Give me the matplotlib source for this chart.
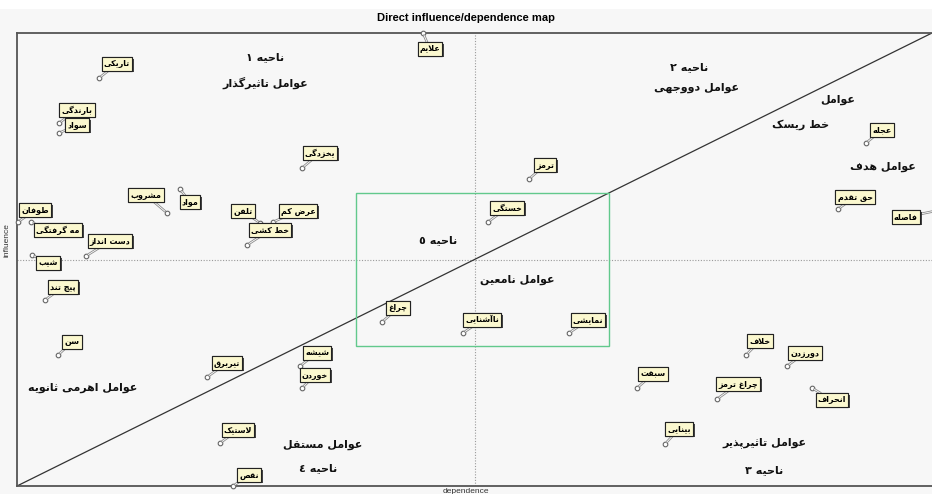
import matplotlib
matplotlib.use("Agg")
import matplotlib.pyplot as plt
import matplotlib.patheffects as pe
from matplotlib.patches import Rectangle
from matplotlib import font_manager, ft2font
from matplotlib.font_manager import FontProperties

# ---------------- data ----------------
variables = ["علایم", "تاریکی", "بارندگی", "سواد", "یخزدگی", "مشروب", "مواد",
             "طوفان", "مه گرفتگی", "دست انداز", "تلفن", "عرض کم", "خط کشی",
             "شیب", "پیچ تند", "سن", "تیربرق", "شیشه", "خوردن", "لاستیک", "نقص",
             "چراغ", "ترمز", "خستگی", "ناآشنایی", "نمایشی", "عجله", "حق تقدم",
             "فاصله", "خلاف", "دورزدن", "سبقت", "چراغ ترمز", "انحراف", "بینایی"]
dependence = [406, 82, 42, 42, 285, 150, 163,
              1, 14, 69, 243, 256, 230,
              15, 28, 41, 190, 283, 285, 203, 216,
              365, 512, 471, 446, 552, 849, 821,
              918, 729, 770, 620, 700, 795, 648]
influence = [453, 408, 363, 353, 318, 273, 297,
             264, 264, 230, 263, 264, 241,
             231, 186, 131, 109, 120, 98, 43, 0,
             164, 307, 264, 153, 153, 343, 277,
             275, 131, 120, 98, 87, 98, 42]
# label placement (offset of the label box from its point, pixels)
label_offsets = [(7, -16), (18, 14), (18, 13), (18, 8), (18, 15), (-21, 18), (10, -13),
                 (17, 12), (27, -8), (24, 15), (-17, 12), (25, 11), (23, 15),
                 (16, -8), (18, 13), (14, 13), (20, 14), (17, 13), (13, 13), (18, 13), (16, 11),
                 (16, 14), (16, 14), (19, 14), (19, 13), (19, 13), (16, 13), (17, 12),
                 (-29, -6), (14, 14), (18, 13), (16, 14), (21, 15), (20, -12), (14, 15)]

mean_dependence = 458
mean_influence = 226
zone5_dep = (339, 592)
zone5_inf = (140, 293)
x_max, y_max = 915, 453

zone_labels = ["ناحیه ١", "عوامل تاثیرگذار", "ناحیه ٢", "عوامل دووجهی", "عوامل",
               "خط ریسک", "عوامل هدف", "ناحیه ٥", "عوامل نامعین",
               "عوامل اهرمی ثانویه", "عوامل مستقل", "ناحیه ٤", "عوامل تاثیرپذیر", "ناحیه ٣"]
zone_label_pos = [(248, 429), (248, 403), (672, 419), (679, 398), (821, 386),
                  (784, 361), (866, 319), (421, 246), (500, 206),
                  (66, 98), (306, 41), (301, 18), (747, 43), (747, 16)]

# ---------------- minimal Arabic/Persian shaping ----------------
AR = {
    '\u0621': ('\uFE80', None, None, None),
    '\u0622': ('\uFE81', '\uFE82', None, None),
    '\u0626': ('\uFE89', '\uFE8A', '\uFE8B', '\uFE8C'),
    '\u0627': ('\uFE8D', '\uFE8E', None, None),
    '\u0628': ('\uFE8F', '\uFE90', '\uFE91', '\uFE92'),
    '\u067E': ('\uFB56', '\uFB57', '\uFB58', '\uFB59'),
    '\u062A': ('\uFE95', '\uFE96', '\uFE97', '\uFE98'),
    '\u062B': ('\uFE99', '\uFE9A', '\uFE9B', '\uFE9C'),
    '\u062C': ('\uFE9D', '\uFE9E', '\uFE9F', '\uFEA0'),
    '\u0686': ('\uFB7A', '\uFB7B', '\uFB7C', '\uFB7D'),
    '\u062D': ('\uFEA1', '\uFEA2', '\uFEA3', '\uFEA4'),
    '\u062E': ('\uFEA5', '\uFEA6', '\uFEA7', '\uFEA8'),
    '\u062F': ('\uFEA9', '\uFEAA', None, None),
    '\u0630': ('\uFEAB', '\uFEAC', None, None),
    '\u0631': ('\uFEAD', '\uFEAE', None, None),
    '\u0632': ('\uFEAF', '\uFEB0', None, None),
    '\u0698': ('\uFB8A', '\uFB8B', None, None),
    '\u0633': ('\uFEB1', '\uFEB2', '\uFEB3', '\uFEB4'),
    '\u0634': ('\uFEB5', '\uFEB6', '\uFEB7', '\uFEB8'),
    '\u0635': ('\uFEB9', '\uFEBA', '\uFEBB', '\uFEBC'),
    '\u0636': ('\uFEBD', '\uFEBE', '\uFEBF', '\uFEC0'),
    '\u0637': ('\uFEC1', '\uFEC2', '\uFEC3', '\uFEC4'),
    '\u0638': ('\uFEC5', '\uFEC6', '\uFEC7', '\uFEC8'),
    '\u0639': ('\uFEC9', '\uFECA', '\uFECB', '\uFECC'),
    '\u063A': ('\uFECD', '\uFECE', '\uFECF', '\uFED0'),
    '\u0641': ('\uFED1', '\uFED2', '\uFED3', '\uFED4'),
    '\u0642': ('\uFED5', '\uFED6', '\uFED7', '\uFED8'),
    '\u06A9': ('\uFB8E', '\uFB8F', '\uFB90', '\uFB91'),
    '\u06AF': ('\uFB92', '\uFB93', '\uFB94', '\uFB95'),
    '\u0644': ('\uFEDD', '\uFEDE', '\uFEDF', '\uFEE0'),
    '\u0645': ('\uFEE1', '\uFEE2', '\uFEE3', '\uFEE4'),
    '\u0646': ('\uFEE5', '\uFEE6', '\uFEE7', '\uFEE8'),
    '\u0647': ('\uFEE9', '\uFEEA', '\uFEEB', '\uFEEC'),
    '\u0648': ('\uFEED', '\uFEEE', None, None),
    '\u06CC': ('\uFBFC', '\uFBFD', '\uFBFE', '\uFBFF'),
}
FALLBACK = {'\uFBFC': '\uFEEF', '\uFBFD': '\uFEF0', '\uFBFE': '\uFEF3', '\uFBFF': '\uFEF4',
            '\uFB8E': '\uFED9', '\uFB8F': '\uFEDA', '\uFB90': '\uFEDB', '\uFB91': '\uFEDC'}

_path = font_manager.findfont(FontProperties(family='DejaVu Sans', weight='bold'))
_cmap = ft2font.FT2Font(_path).get_charmap()


def _glyph(c):
    if ord(c) in _cmap:
        return c
    return FALLBACK.get(c, c)


def shape(s):
    chars = list(s)
    n = len(chars)
    out = []
    i = 0
    while i < n:
        c = chars[i]
        if c not in AR:
            if c != '\u200c':
                out.append(c)
            i += 1
            continue
        prev = chars[i - 1] if i > 0 else None
        join_prev = prev in AR and AR[prev][2] is not None
        nxt = chars[i + 1] if i + 1 < n else None
        if c == '\u0644' and nxt in ('\u0627', '\u0622'):
            if nxt == '\u0627':
                out.append('\uFEFC' if join_prev else '\uFEFB')
            else:
                out.append('\uFEF6' if join_prev else '\uFEF5')
            i += 2
            continue
        join_next = AR[c][2] is not None and nxt in AR
        iso, fin, ini, med = AR[c]
        if join_prev and join_next:
            g = med
        elif join_prev:
            g = fin
        elif join_next:
            g = ini
        else:
            g = iso
        out.append(_glyph(g))
        i += 1
    return ''.join(reversed(out))


# ---------------- figure ----------------
BG = '#f7f7f7'
fig = plt.figure(figsize=(9.32, 4.94), dpi=100, facecolor=BG)
fig.patches.append(Rectangle((0, 1 - 9 / 494), 1, 9 / 494, transform=fig.transFigure,
                             facecolor='white', edgecolor='none', zorder=-1))
ax = fig.add_axes([17 / 932, 8 / 494, 915 / 932, 453 / 494])
ax.set_facecolor(BG)
ax.set_xlim(0, x_max)
ax.set_ylim(0, y_max)
ax.set_xticks([])
ax.set_yticks([])
for side in ['left', 'top', 'bottom']:
    ax.spines[side].set_color('#555555')
    ax.spines[side].set_linewidth(1.3)
ax.spines['right'].set_visible(False)

# mean lines
ax.axvline(mean_dependence, color='#9a9a9a', lw=0.8, ls=(0, (1, 1.5)), zorder=1)
ax.axhline(mean_influence, color='#9a9a9a', lw=0.8, ls=(0, (1, 1.5)), zorder=1)

# diagonal risk line
ax.plot([0, 1], [0, 1], transform=ax.transAxes, color='#333333', lw=0.9, zorder=2)

# uncertainty zone
ax.add_patch(Rectangle((zone5_dep[0], zone5_inf[0]), zone5_dep[1] - zone5_dep[0],
                       zone5_inf[1] - zone5_inf[0], fill=False, edgecolor='#62c98c',
                       lw=1.0, zorder=2))

# points
ax.scatter(dependence, influence, s=11, facecolors='white', edgecolors='#666666',
           linewidths=0.8, zorder=5, clip_on=False)

for name, x, y, off in zip(variables, dependence, influence, label_offsets):
    ann = ax.annotate(shape(name), xy=(x, y), xytext=off, textcoords='offset pixels',
                      ha='center', va='center', fontsize=5.8, fontweight='bold',
                      family='DejaVu Sans', color='black',
                      bbox=dict(boxstyle='square,pad=0.25', fc='#fbf8cf', ec='#222222', lw=0.8),
                      arrowprops=dict(arrowstyle='-', color='white', lw=0.6,
                                      shrinkA=0, shrinkB=2,
                                      path_effects=[pe.Stroke(linewidth=1.8, foreground='#8a8a8a'),
                                                    pe.Normal()]),
                      annotation_clip=False, zorder=6)
    ann.get_bbox_patch().set_path_effects([
        pe.withSimplePatchShadow(offset=(1.3, -1.3), shadow_rgbFace='#333333', alpha=0.9),
        pe.Normal()])

for t, (x, y) in zip(zone_labels, zone_label_pos):
    ax.text(x, y, shape(t), ha='center', va='center', fontsize=8, fontweight='bold',
            family='DejaVu Sans', color='#111111', zorder=4)

fig.text(466 / 932, 1 - 18 / 494, 'Direct influence/dependence map', ha='center',
         va='center', fontsize=8, fontweight='bold', family='Liberation Sans')
fig.text(7 / 932, 1 - 240 / 494, 'influence', rotation=90, ha='center', va='center',
         fontsize=6, family='Liberation Sans', color='#333333')
fig.text(466 / 932, 1 - 491 / 494, 'dependence', ha='center', va='center',
         fontsize=6, family='Liberation Sans', color='#333333')

fig.savefig('out.png', dpi=100, facecolor=BG)
